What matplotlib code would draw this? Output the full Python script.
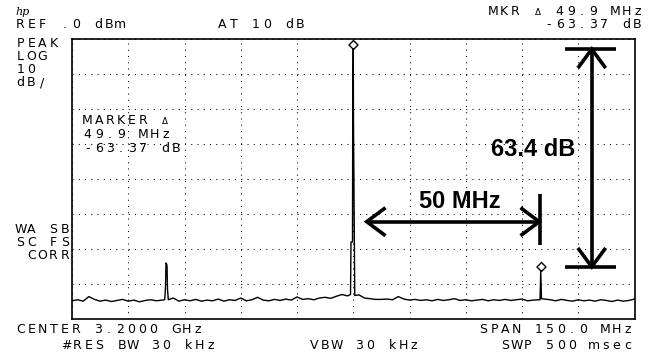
import numpy as np
import matplotlib.pyplot as plt

# analyzer settings
center_mhz = 3200.0
span_mhz = 150.0
ref_dbm = 0.0
db_per_div = 10
f_start = center_mhz - span_mhz / 2
f_step = 1.5  # MHz between noise samples

# noise floor, one value per sample
noise_dbm = [
    -74.8, -74.5, -74.9, -73.6, -74.4, -74.9, -74.6, -75.0, -74.7, -74.4,
    -74.9, -74.6, -75.1, -74.7, -74.5, -74.8, -74.6, -74.7, -74.0, -74.9,
    -74.5, -74.8, -74.4, -74.9, -74.6, -74.8, -74.3, -74.9, -74.5, -74.7,
    -74.0, -74.8, -74.5, -73.8, -74.6, -74.8, -74.4, -74.7, -74.3, -74.6,
    -73.7, -74.4, -74.2, -74.5, -74.0, -73.8, -74.1, -73.5, -73.0, -73.4,
    -73.2, -73.1, -74.0, -74.2, -74.4, -74.4, -74.3, -74.5, -73.6, -74.3,
    -74.6, -74.4, -74.7, -74.5, -74.8, -74.4, -74.7, -74.5, -74.2, -74.7,
    -74.5, -74.8, -74.6, -74.4, -74.8, -74.5, -74.7, -74.4, -74.7, -74.5,
    -74.3, -74.8, -74.6, -74.5, -74.6, -74.5, -74.8, -74.4, -74.7, -74.9,
    -74.5, -74.8, -74.6, -74.9, -74.5, -74.7, -75.0, -74.6, -74.9, -74.7,
    -74.3,
]

# carrier and the two spurs at +/- 50 MHz
main_f = [3199.27, 3199.40, 3199.80, 3199.86, 3200.00, 3200.06, 3200.40]
main_db = [-73.0, -58.0, -58.0, -22.6, -2.9, -22.6, -73.3]
spur_lo_f = [3149.72, 3149.93, 3150.07, 3150.33, 3150.47, 3150.68]
spur_lo_db = [-74.5, -71.0, -64.0, -64.6, -71.5, -74.5]
spur_hi_f = [3249.8, 3250.0, 3250.2]
spur_hi_db = [-74.5, -66.4, -74.2]

marker_f = [3200.0, 3250.0]
marker_db = [-2.9, -66.4]

# build the trace
noise_f = f_start + f_step * np.arange(len(noise_dbm))
noise_dbm = np.array(noise_dbm)
keep = np.ones(len(noise_f), bool)
for fc in [3150.0, 3200.0, 3250.0]:
    keep &= np.abs(noise_f - fc) > 1.1
tr_f = np.concatenate([noise_f[keep], main_f, spur_lo_f, spur_hi_f])
tr_db = np.concatenate([noise_dbm[keep], main_db, spur_lo_db, spur_hi_db])
order = np.argsort(tr_f, kind='stable')
tr_f, tr_db = tr_f[order], tr_db[order]

W, H = 656, 358
fig = plt.figure(figsize=(W / 100, H / 100), dpi=100)
ax = fig.add_axes([72 / W, 1 - 319 / H, 562.5 / W, 280 / H])

ax.plot(tr_f, tr_db, color='black', lw=1.0, zorder=3)

# diamond marker sitting on the peak point
diamond = [(0, 0), (0.5, 0.5), (0, 1), (-0.5, 0.5), (0, 0)]
ax.plot(marker_f, marker_db, linestyle='none', marker=diamond, markersize=13,
        markerfacecolor='white', markeredgecolor='black', markeredgewidth=1.0, zorder=4)

ax.set_xlim(f_start, f_start + span_mhz)
ax.set_ylim(ref_dbm - 8 * db_per_div, ref_dbm)
ax.set_xticks(np.arange(f_start, f_start + span_mhz + 1, span_mhz / 10))
ax.set_yticks(np.arange(ref_dbm - 80, ref_dbm + 1, db_per_div))
ax.tick_params(length=0, labelbottom=False, labelleft=False)
ax.grid(True, color='black', linestyle=(0, (1, 5)), linewidth=0.75)
for sp in ax.spines.values():
    sp.set_linewidth(1.2)

# annotation arrows
alw = 2.6
kw = dict(color='black', lw=alw, solid_capstyle='butt', solid_joinstyle='miter', zorder=5, clip_on=False)
# vertical 63.4 dB arrow
va_f, va_top, va_bot = 3263.6, -2.9, -65.1
ax.plot([3256.5, 3270.1], [va_top, va_top], **kw)
ax.plot([3256.5, 3270.1], [va_bot, va_bot], **kw)
ax.plot([va_f, va_f], [va_top, va_bot], **kw)
ax.plot([va_f - 3.7, va_f, va_f + 3.7], [va_top - 5.4, va_top, va_top - 5.4], **kw)
ax.plot([va_f - 3.7, va_f, va_f + 3.7], [va_bot + 5.4, va_bot, va_bot + 5.4], **kw)
# horizontal 50 MHz arrow
ha_db, ha_l, ha_r = -52.2, 3203.6, 3249.6
ax.plot([ha_l, ha_r], [ha_db, ha_db], **kw)
ax.plot([3249.9, 3249.9], [-44.3, -58.9], **kw)
ax.plot([ha_l + 5.0, ha_l, ha_l + 5.0], [ha_db + 4.0, ha_db, ha_db - 4.0], **kw)
ax.plot([ha_r - 5.0, ha_r, ha_r - 5.0], [ha_db + 4.0, ha_db, ha_db - 4.0], **kw)

ax.text(3248.1, -33.4, '63.4 dB', family='Liberation Sans', weight='bold',
        fontsize=17, ha='center', va='baseline', zorder=6)
ax.text(3228.3, -48.4, '50 MHz', family='Liberation Sans', weight='bold',
        fontsize=17, ha='center', va='baseline', zorder=6)


# screen text, fixed character pitch like the analyzer font
def hp_text(x, y, s, right=False, size=9, pitch=11.1):
    if right:
        x = x - (len(s) - 1) * pitch - 8.6
    for i, ch in enumerate(s):
        if ch == ' ':
            continue
        fs = size * 0.7 if ch == 'Δ' else size
        fig.text((x + i * pitch + 4.3) / W, 1 - y / H, ch, fontsize=fs,
                 ha='center', va='baseline', family='DejaVu Sans')


fig.text(15 / W, 1 - 15 / H, 'hp', fontsize=8, style='italic', family='DejaVu Serif')
hp_text(641.7, 15, 'MKR Δ 49.9 MHz', right=True)
hp_text(641.7, 27.7, '-63.37 dB', right=True)
hp_text(16, 28.3, 'REF .0 dBm')
hp_text(218, 28.3, 'AT 10 dB')
for k, s in enumerate(['PEAK', 'LOG', '10', 'dB/']):
    hp_text(16, 47 + 13 * k, s)
for k, s in enumerate(['WA SB', 'SC FS', ' CORR']):
    hp_text(16, 233 + 13 * k, s)
for y, s in zip([124, 138, 152.5], ['MARKER Δ', '49.9 MHz', '-63.37 dB']):
    hp_text(83.3, y, s)
hp_text(16, 333.3, 'CENTER 3.2000 GHz')
hp_text(631.7, 333.3, 'SPAN 150.0 MHz', right=True)
hp_text(62, 349, '#RES BW 30 kHz')
hp_text(310, 349, 'VBW 30 kHz')
hp_text(631.7, 349, 'SWP 500 msec', right=True)

fig.savefig('out.png', dpi=100)
